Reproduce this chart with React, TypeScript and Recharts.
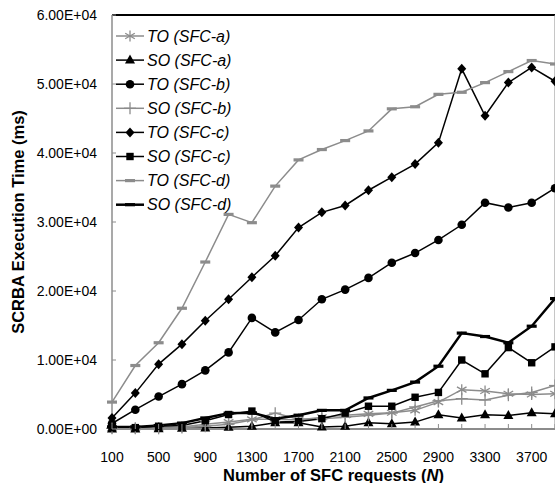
import React from 'react';
import { LineChart, Line, XAxis, YAxis, ReferenceLine } from 'recharts';

// N values on the x axis
const nValues = [100, 300, 500, 700, 900, 1100, 1300, 1500, 1700, 1900, 2100, 2300, 2500, 2700, 2900, 3100, 3300, 3500, 3700, 3900];

// execution times (ms)
const toA = [100, 100, 200, 300, 700, 1000, 1400, 1400, 1300, 1700, 2000, 2200, 2350, 2700, 3900, 5700, 5500, 5100, 5000, 5100];
const soA = [0, 0, 50, 100, 150, 250, 400, 900, 900, 300, 400, 900, 750, 1000, 2050, 1600, 2050, 1950, 2350, 2200];
const toB = [800, 2800, 4700, 6500, 8500, 11100, 16100, 14000, 15800, 18800, 20200, 21900, 24100, 25500, 27400, 29600, 32800, 32100, 32800, 34900];
const soB = [100, 100, 100, 200, 400, 700, 1300, 2300, 1400, 1500, 1700, 2000, 2300, 3200, 4100, 4400, 4200, 4900, 5300, 6300];
const toC = [1600, 5200, 9400, 12300, 15700, 18800, 22000, 25100, 29200, 31400, 32400, 34600, 36500, 38400, 41500, 52200, 45400, 50200, 52400, 50400];
const soC = [200, 200, 400, 500, 1200, 2100, 2600, 1000, 1100, 1500, 2300, 3300, 3300, 4600, 5300, 10000, 8000, 11800, 9600, 11900];
const toD = [3900, 9200, 12500, 17500, 24200, 31100, 29900, 35200, 39000, 40500, 41800, 43200, 46400, 46700, 48500, 48800, 50200, 51800, 53400, 52900];
const soD = [300, 300, 500, 850, 1600, 2300, 2350, 1500, 2000, 2700, 2700, 4500, 5600, 6800, 9100, 13900, 13400, 12500, 14900, 18900];

const yTicks = [0, 10000, 20000, 30000, 40000, 50000, 60000];
const xLabelStep = 400;

const GRAY = '#8c8c8c';
const BLACK = '#000';
const FONT = '"Liberation Sans", Arial, Helvetica, sans-serif';

const data = nValues.map((n, i) => ({
  n,
  toA: toA[i], soA: soA[i], toB: toB[i], soB: soB[i],
  toC: toC[i], soC: soC[i], toD: toD[i], soD: soD[i],
}));

type Shape = 'star' | 'triangle' | 'circle' | 'plus' | 'diamond' | 'square' | 'dash';

const series: { key: string; name: string; shape: Shape; color: string; width: number }[] = [
  { key: 'toA', name: 'TO (SFC-a)', shape: 'star', color: GRAY, width: 1.5 },
  { key: 'soA', name: 'SO (SFC-a)', shape: 'triangle', color: BLACK, width: 1.5 },
  { key: 'toB', name: 'TO (SFC-b)', shape: 'circle', color: BLACK, width: 1.5 },
  { key: 'soB', name: 'SO (SFC-b)', shape: 'plus', color: GRAY, width: 1.5 },
  { key: 'toC', name: 'TO (SFC-c)', shape: 'diamond', color: BLACK, width: 1.5 },
  { key: 'soC', name: 'SO (SFC-c)', shape: 'square', color: BLACK, width: 1.5 },
  { key: 'toD', name: 'TO (SFC-d)', shape: 'dash', color: GRAY, width: 1.5 },
  { key: 'soD', name: 'SO (SFC-d)', shape: 'dash', color: BLACK, width: 2.5 },
];

const Marker = ({ shape, cx, cy, color }: { shape: Shape; cx: number; cy: number; color: string }) => {
  if (cx == null || cy == null) return null;
  switch (shape) {
    case 'star': {
      const r = 5.5;
      const d = r * 0.87;
      return (
        <g stroke={color} strokeWidth={1.3}>
          <line x1={cx} y1={cy - r} x2={cx} y2={cy + r} />
          <line x1={cx - d} y1={cy - r / 2} x2={cx + d} y2={cy + r / 2} />
          <line x1={cx - d} y1={cy + r / 2} x2={cx + d} y2={cy - r / 2} />
        </g>
      );
    }
    case 'plus':
      return (
        <g stroke={color} strokeWidth={1.3}>
          <line x1={cx} y1={cy - 6} x2={cx} y2={cy + 6} />
          <line x1={cx - 6} y1={cy} x2={cx + 6} y2={cy} />
        </g>
      );
    case 'triangle':
      return <polygon points={`${cx},${cy - 5.5} ${cx - 5},${cy + 3.5} ${cx + 5},${cy + 3.5}`} fill={color} />;
    case 'circle':
      return <circle cx={cx} cy={cy} r={4.3} fill={color} />;
    case 'diamond':
      return <polygon points={`${cx},${cy - 5} ${cx + 4.5},${cy} ${cx},${cy + 5} ${cx - 4.5},${cy}`} fill={color} />;
    case 'square':
      return <rect x={cx - 3.7} y={cy - 3.7} width={7.4} height={7.4} fill={color} />;
    case 'dash':
      return <rect x={cx - 5} y={cy - 1.6} width={10} height={3.2} fill={color} />;
  }
  return null;
};

const fmtSci = (v: number) => {
  if (v === 0) return '0.00E+00';
  const e = Math.floor(Math.log10(v));
  const m = v / Math.pow(10, e);
  return `${m.toFixed(2)}E+${String(e).padStart(2, '0')}`;
};

const YTick = (props: any) => {
  const { x, y, payload } = props;
  return (
    <g>
      <line x1={x} y1={y} x2={x + 4} y2={y} stroke={GRAY} strokeWidth={1} />
      <text x={x - 15} y={y + 5} textAnchor="end" fontSize={14} fontFamily={FONT} fill="#000">
        {fmtSci(payload.value)}
      </text>
    </g>
  );
};

const XTick = (props: any) => {
  const { x, y, payload } = props;
  const showLabel = (payload.value - nValues[0]) % xLabelStep === 0;
  return (
    <g>
      <line x1={x} y1={y} x2={x} y2={y - 5} stroke={GRAY} strokeWidth={1} />
      {showLabel && (
        <text x={x} y={y + 33} textAnchor="middle" fontSize={14} fontFamily={FONT} fill="#000">
          {payload.value}
        </text>
      )}
    </g>
  );
};

// legend drawn as an overlay inside the plot's top-left corner
const LegendBox = () => (
  <svg width={130} height={200} style={{ position: 'absolute', left: 114, top: 24 }}>
    {series.map((s, i) => {
      const cy = 12 + i * 24.1;
      return (
        <g key={s.key}>
          <line x1={2} y1={cy} x2={30} y2={cy} stroke={s.color} strokeWidth={s.width} />
          <Marker shape={s.shape} cx={16} cy={cy} color={s.color} />
          <text x={33} y={cy + 5.5} fontSize={16} fontStyle="italic" fontFamily={FONT} fill="#000">
            {s.name}
          </text>
        </g>
      );
    })}
  </svg>
);

export default function App() {
  return (
    <div style={{ position: 'fixed', left: 0, top: 0, width: 555, height: 483, overflow: 'hidden', background: '#fff' }}>
      <LineChart width={555} height={483} data={data} margin={{ top: 15, right: 0, bottom: 0, left: 0 }}>
        <XAxis
          dataKey="n"
          type="number"
          domain={[100, 3900]}
          ticks={nValues}
          interval={0}
          height={54}
          stroke={GRAY}
          strokeWidth={2}
          tickLine={false}
          tickSize={0}
          tickMargin={0}
          tick={<XTick />}
          label={{
            content: ({ viewBox }: any) => (
              <text
                x={viewBox.x + viewBox.width / 2}
                y={viewBox.y + 52}
                textAnchor="middle"
                fontSize={16.5}
                fontWeight="bold"
                fontFamily={FONT}
                fill="#000"
              >
                Number of SFC requests (<tspan fontStyle="italic">N</tspan>)
              </text>
            ),
          }}
        />
        <YAxis
          type="number"
          domain={[0, 60000]}
          ticks={yTicks}
          interval={0}
          width={112}
          stroke={GRAY}
          strokeWidth={1.5}
          tickLine={false}
          tickSize={0}
          tickMargin={0}
          tick={<YTick />}
          label={{
            content: ({ viewBox }: any) => {
              const cx = 18;
              const cy = viewBox.y + viewBox.height / 2;
              return (
                <text
                  x={cx}
                  y={cy}
                  transform={`rotate(-90 ${cx} ${cy})`}
                  textAnchor="middle"
                  dominantBaseline="central"
                  fontSize={16.5}
                  fontWeight="bold"
                  fontFamily={FONT}
                  fill="#000"
                >
                  SCRBA Execution Time (ms)
                </text>
              );
            },
          }}
        />
        <ReferenceLine y={60000} stroke={BLACK} strokeWidth={2} />
        <ReferenceLine x={3900} stroke={GRAY} strokeWidth={1} />
        {series.map((s) => (
          <Line
            key={s.key}
            dataKey={s.key}
            name={s.name}
            stroke={s.color}
            strokeWidth={s.width}
            isAnimationActive={false}
            dot={(p: any) => <Marker key={`${s.key}-${p.index}`} shape={s.shape} cx={p.cx} cy={p.cy} color={s.color} />}
            activeDot={false}
          />
        ))}
      </LineChart>
      <LegendBox />
    </div>
  );
}
